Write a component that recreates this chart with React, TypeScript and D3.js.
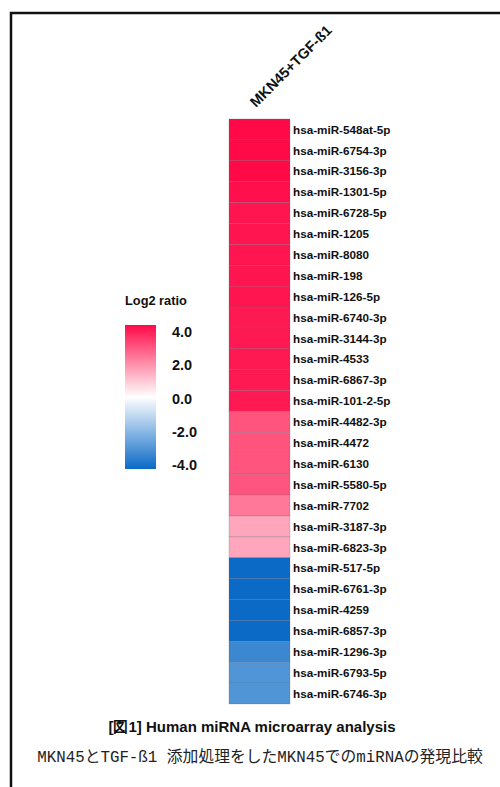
import React from "react";
import * as d3 from "d3";

// miRNA rows, top to bottom
const mirnas = [
  "hsa-miR-548at-5p",
  "hsa-miR-6754-3p",
  "hsa-miR-3156-3p",
  "hsa-miR-1301-5p",
  "hsa-miR-6728-5p",
  "hsa-miR-1205",
  "hsa-miR-8080",
  "hsa-miR-198",
  "hsa-miR-126-5p",
  "hsa-miR-6740-3p",
  "hsa-miR-3144-3p",
  "hsa-miR-4533",
  "hsa-miR-6867-3p",
  "hsa-miR-101-2-5p",
  "hsa-miR-4482-3p",
  "hsa-miR-4472",
  "hsa-miR-6130",
  "hsa-miR-5580-5p",
  "hsa-miR-7702",
  "hsa-miR-3187-3p",
  "hsa-miR-6823-3p",
  "hsa-miR-517-5p",
  "hsa-miR-6761-3p",
  "hsa-miR-4259",
  "hsa-miR-6857-3p",
  "hsa-miR-1296-3p",
  "hsa-miR-6793-5p",
  "hsa-miR-6746-3p"
];

// log2 ratio, MKN45+TGF-β1 vs MKN45
const log2Ratio = [
  4.3, 4.2, 4.1, 3.9, 3.8, 3.8, 3.8, 3.8, 3.8, 3.75, 3.75, 3.75, 3.75, 3.75,
  2.8, 2.8, 2.8, 2.8, 2.2, 1.45, 1.45,
  -4.2, -4.2, -4.2, -4.1, -3.2, -2.85, -2.85
];

const columnName = "MKN45+TGF-ß1";
const legendTicks = [4, 2, 0, -2, -4];
const legendTitle = "Log2 ratio";
const captionTitle = "[図1] Human miRNA microarray analysis";
const captionText = "MKN45とTGF-ß1 添加処理をしたMKN45でのmiRNAの発現比較";

const width = 500,
  height = 787;

const sans = "'Liberation Sans', Arial, Helvetica, sans-serif";

export default function App() {
  const heat = { x: 229, top: 119, bottom: 704, w: 61 };

  const y = d3
    .scaleBand()
    .domain(mirnas)
    .range([heat.top, heat.bottom])
    .padding(0);

  const color = d3
    .scaleLinear<string>()
    .domain([-4, 0, 4])
    .range(["#0a6ac6", "#ffffff", "#ff0a47"])
    .clamp(true);

  const legend = { x: 125, top: 325, bottom: 469, w: 31 };
  const legendY = d3.scaleLinear().domain([4, -4]).range([332, 465]);

  return (
    <svg
      width={width}
      height={height}
      style={{ position: "absolute", left: 0, top: 0, background: "#fff" }}
    >
      <defs>
        <linearGradient id="legendGrad" x1="0" y1="0" x2="0" y2="1">
          {[4, 2, 0, -2, -4].map((v, i) => (
            <stop key={i} offset={`${(i / 4) * 100}%`} stopColor={color(v)} />
          ))}
        </linearGradient>
      </defs>

      <rect
        x={11}
        y={13}
        width={width + 20}
        height={height + 20}
        fill="none"
        stroke="#111"
        strokeWidth={2.5}
      />

      <text
        transform={`translate(256,108) rotate(-45)`}
        fontFamily={sans}
        fontWeight="bold"
        fontSize={14.5}
        fill="#111"
      >
        {columnName}
      </text>

      <g>
        {mirnas.map((m, i) => (
          <rect
            key={m}
            x={heat.x}
            y={y(m)}
            width={heat.w}
            height={y.bandwidth()}
            fill={color(log2Ratio[i])}
            stroke="rgba(90,90,110,0.35)"
            strokeWidth={0.6}
          />
        ))}
        {mirnas.map(m => (
          <text
            key={m}
            x={heat.x + heat.w + 3}
            y={(y(m) as number) + y.bandwidth() / 2}
            dy="0.36em"
            fontFamily={sans}
            fontWeight="bold"
            fontSize={11.7}
            fill="#111"
          >
            {m}
          </text>
        ))}
      </g>

      <g>
        <text
          x={legend.x}
          y={305}
          fontFamily={sans}
          fontWeight="bold"
          fontSize={12.8}
          fill="#111"
        >
          {legendTitle}
        </text>
        <rect
          x={legend.x}
          y={legend.top}
          width={legend.w}
          height={legend.bottom - legend.top}
          fill="url(#legendGrad)"
        />
        {legendTicks.map(t => (
          <text
            key={t}
            x={172}
            y={legendY(t)}
            dy="0.36em"
            fontFamily={sans}
            fontWeight="bold"
            fontSize={14.5}
            fill="#111"
          >
            {t.toFixed(1)}
          </text>
        ))}
      </g>

      <text
        x={252}
        y={732}
        textAnchor="middle"
        fontFamily={sans}
        fontWeight="bold"
        fontSize={15}
        fill="#111"
      >
        {captionTitle}
      </text>
      <text
        x={260}
        y={762}
        textAnchor="middle"
        fontFamily="'Liberation Mono', 'Noto Sans CJK JP', monospace"
        fontSize={15.8}
        fill="#222"
      >
        {captionText}
      </text>
    </svg>
  );
}
